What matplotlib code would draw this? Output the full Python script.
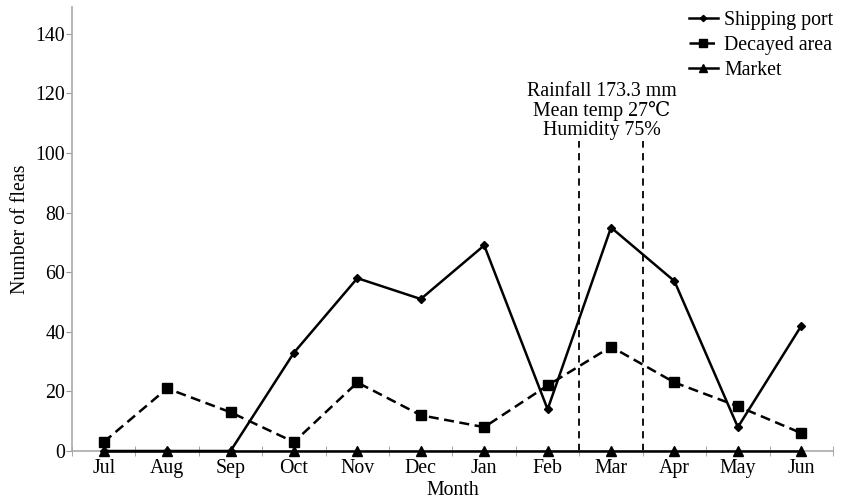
import matplotlib
matplotlib.use("Agg")
import matplotlib.pyplot as plt
import numpy as np

plt.rcParams["font.family"] = ["Liberation Serif", "DejaVu Serif"]

months = ["Jul", "Aug", "Sep", "Oct", "Nov", "Dec", "Jan", "Feb", "Mar", "Apr", "May", "Jun"]
shipping_port = [0, 0, 0, 33, 58, 51, 69, 14, 75, 57, 8, 42]
decayed_area = [3, 21, 13, 3, 23, 12, 8, 22, 35, 23, 15, 6]
market = [0, 0, 0, 0, 0, 0, 0, 0, 0, 0, 0, 0]
rain_window = [7.5, 8.5]
rain_text = "Rainfall 173.3 mm\nMean temp 27\u2103\nHumidity 75%"

FS = 14.3

fig = plt.figure(figsize=(8.43, 5.04), dpi=100)
ax = fig.add_axes([72 / 843, 53 / 504, (833 - 72) / 843, (451 - 7) / 504])

x = np.arange(len(months))
ax.plot(x, market, color="black", lw=1.8, marker="^", ms=7, label="Market", zorder=3,
        clip_on=False)
ax.plot(x, shipping_port, color="black", lw=1.8, marker="D", ms=4, label="Shipping port",
        zorder=4, clip_on=False)
ax.plot(x, decayed_area, color="black", lw=1.8, ls=(0, (4, 2.2)), marker="s", ms=6.5,
        label="Decayed area", zorder=4)

for xv in rain_window:
    ax.plot([xv, xv], [0, 104], color="black", lw=1.3, ls=(0, (4, 3)), zorder=2)
ax.text(7.85, 104.3, rain_text, ha="center", va="bottom", fontsize=FS, linespacing=1.0)

ax.set_xlim(-0.5, 11.5)
ax.set_ylim(0, 149)
ax.set_xticks(x)
ax.set_xticklabels(months, fontsize=FS)
ax.set_xticks(np.arange(-0.5, 12, 1), minor=True)
ax.tick_params(axis="x", which="major", length=0, pad=6)
ax.tick_params(axis="x", which="minor", length=7, direction="inout", color="#999999")
ax.set_yticks(np.arange(0, 141, 20))
ax.tick_params(axis="y", labelsize=FS, length=4, color="#999999", pad=1)

for side in ["top", "right"]:
    ax.spines[side].set_visible(False)
for side in ["left", "bottom"]:
    ax.spines[side].set_color("#aaaaaa")
    ax.spines[side].set_linewidth(1.2)

ax.set_xlabel("Month", fontsize=FS, labelpad=2)
ax.set_ylabel("Number of fleas", fontsize=FS, labelpad=4)

handles, labels = ax.get_legend_handles_labels()
order = [1, 2, 0]
leg = ax.legend([handles[i] for i in order], [labels[i] for i in order], loc="upper right",
                bbox_to_anchor=(1.024, 1.032), frameon=False, fontsize=FS, handlelength=1.5,
                handletextpad=0.3, labelspacing=0.3, markerscale=0.8, numpoints=1)

fig.savefig("out.png", dpi=100)
